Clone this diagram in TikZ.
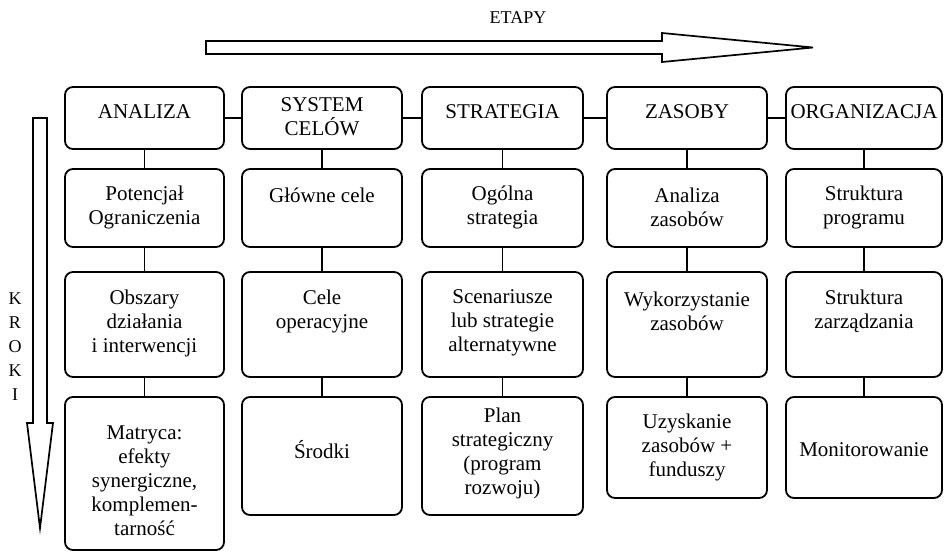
\documentclass[tikz,border=0pt]{standalone}
\usepackage{fontspec}
\setmainfont{Liberation Serif}
\begin{document}
\begin{tikzpicture}[x=1pt,y=-1pt,
  box/.style={draw, line width=1.8pt, rounded corners=8pt, inner sep=0pt},
  txt/.style={align=center, font=\fontsize{21}{24}\selectfont, inner sep=0pt},
  lbl/.style={align=center, font=\fontsize{18}{24}\selectfont, inner sep=0pt},
  link/.style={line width=1.8pt},
  bigarrow/.style={draw, line width=1.7pt, line join=miter}]
\useasboundingbox (0,0) rectangle (944,552);

% stage arrow and label
\draw[bigarrow] (206,41) -- (662,41) -- (662,33) -- (813,47.5) -- (662,62) -- (662,54) -- (206,54) -- cycle;
\node[lbl] (etapy) at (518,17.5) {ETAPY};

% steps arrow and label
\draw[bigarrow] (33,118) -- (47,118) -- (47,423) -- (53,423) -- (40,528) -- (27,423) -- (33,423) -- cycle;
\node[lbl] (kroki) at (15,347) {K\\R\\O\\K\\I};

% boxes row 1
\node[box, minimum width=159, minimum height=62] (b11) at (144.5,118) {};
\node[box, minimum width=160, minimum height=62] (b12) at (322,118) {};
\node[box, minimum width=161, minimum height=62] (b13) at (502.5,118) {};
\node[box, minimum width=160, minimum height=62] (b14) at (687,118) {};
\node[box, minimum width=156, minimum height=62] (b15) at (864,118) {};
% row 2
\node[box, minimum width=159, minimum height=78] (b21) at (144.5,208) {};
\node[box, minimum width=160, minimum height=78] (b22) at (322,208) {};
\node[box, minimum width=161, minimum height=78] (b23) at (502.5,208) {};
\node[box, minimum width=160, minimum height=78] (b24) at (687,208) {};
\node[box, minimum width=156, minimum height=78] (b25) at (864,208) {};
% row 3
\node[box, minimum width=159, minimum height=105] (b31) at (144.5,324.5) {};
\node[box, minimum width=160, minimum height=105] (b32) at (322,324.5) {};
\node[box, minimum width=161, minimum height=105] (b33) at (502.5,324.5) {};
\node[box, minimum width=160, minimum height=105] (b34) at (687,324.5) {};
\node[box, minimum width=156, minimum height=105] (b35) at (864,324.5) {};
% row 4
\node[box, minimum width=159, minimum height=153] (b41) at (144.5,473.5) {};
\node[box, minimum width=160, minimum height=118] (b42) at (322,456) {};
\node[box, minimum width=161, minimum height=118] (b43) at (502.5,456) {};
\node[box, minimum width=160, minimum height=101] (b44) at (687,447.5) {};
\node[box, minimum width=156, minimum height=101] (b45) at (864,447.5) {};

% texts
\node[txt] (t11) at (144.5,112) {ANALIZA};
\node[txt] (t12) at (322,116.5) {SYSTEM\\CELÓW};
\node[txt] (t13) at (502.5,112) {STRATEGIA};
\node[txt] (t14) at (687,112) {ZASOBY};
\node[txt] (t15) at (864,112) {ORGANIZACJA};

\node[txt] (t21) at (144.5,207) {Potencjał\\Ograniczenia};
\node[txt] (t22) at (322,195) {Główne cele};
\node[txt] (t23) at (502.5,207) {Ogólna\\strategia};
\node[txt] (t24) at (687,207) {Analiza\\zasobów};
\node[txt] (t25) at (864,207) {Struktura\\programu};

\node[txt] (t31) at (144.5,323) {Obszary\\działania\\i interwencji};
\node[txt] (t32) at (322,311.5) {Cele\\operacyjne};
\node[txt] (t33) at (502.5,323) {Scenariusze\\lub strategie\\alternatywne};
\node[txt] (t34) at (687,311.5) {Wykorzystanie\\zasobów};
\node[txt] (t35) at (864,311.5) {Struktura\\zarządzania};

\node[txt] (t41) at (144.5,481) {Matryca:\\efekty\\synergiczne,\\komplemen-\\tarność};
\node[txt] (t42) at (322,450) {Środki};
\node[txt] (t43) at (502.5,453.5) {Plan\\strategiczny\\(program\\rozwoju)};
\node[txt] (t44) at (687,447.5) {Uzyskanie\\zasobów +\\funduszy};
\node[txt] (t45) at (864,450) {Monitorowanie};

% connectors
\draw[link] (b11.east) -- (b12.west);
\draw[link] (b12.east) -- (b13.west);
\draw[link] (b13.east) -- (b14.west);
\draw[link] (b14.east) -- (b15.west);
\foreach \c in {1,...,5}{
  \draw[link] (b1\c.south) -- (b2\c.north);
  \draw[link] (b2\c.south) -- (b3\c.north);
  \draw[link] (b3\c.south) -- (b4\c.north);
}
\end{tikzpicture}
\end{document}
